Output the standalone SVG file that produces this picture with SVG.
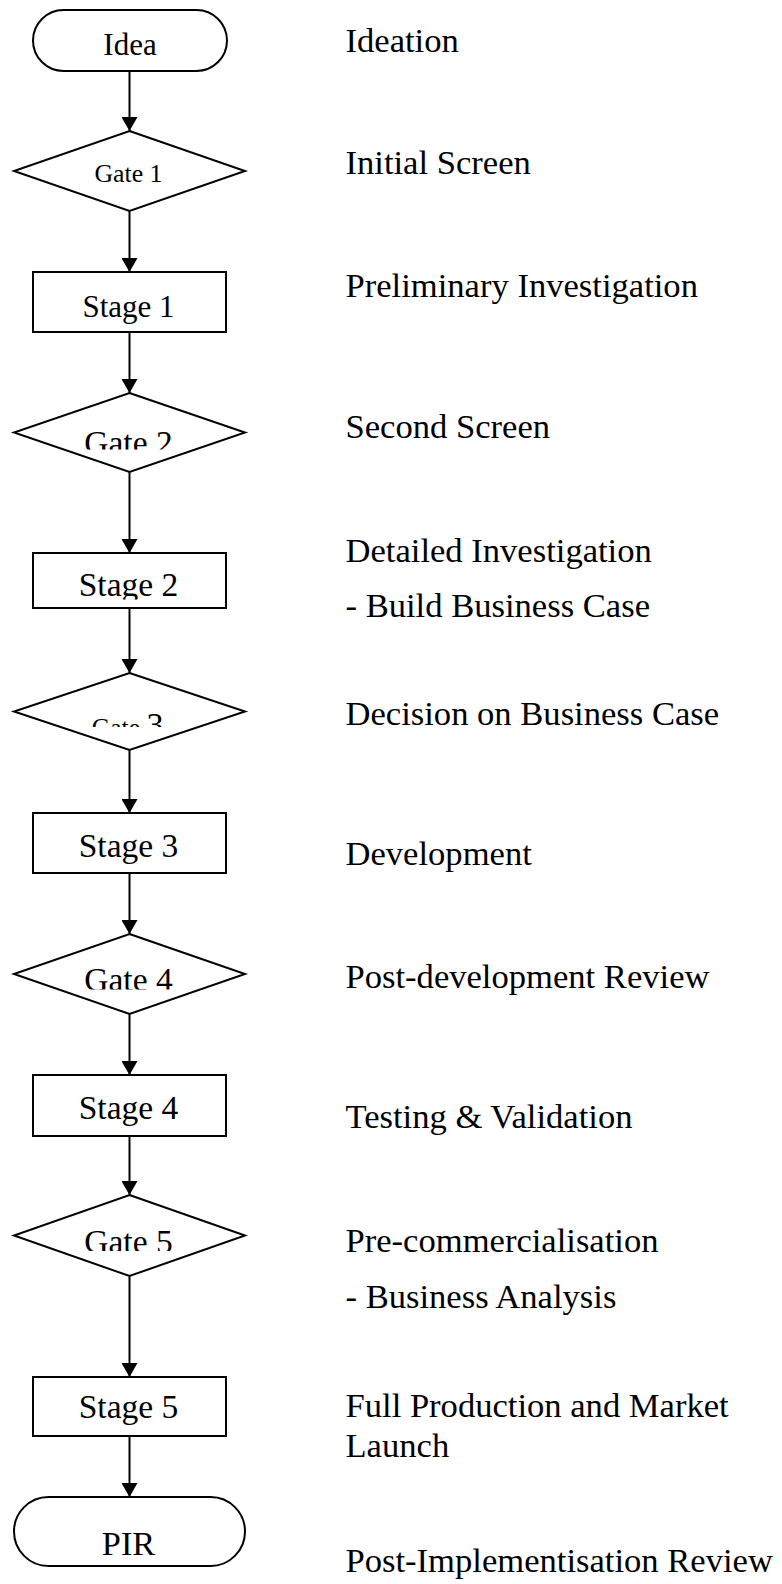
<svg xmlns="http://www.w3.org/2000/svg" width="782" height="1584" viewBox="0 0 782 1584">
  <style>
    .shape { fill: #ffffff; stroke: #000000; stroke-width: 2; }
    .edge { fill: none; stroke: #000000; stroke-width: 2; marker-end: url(#arrow); }
    .t { font-family: "Liberation Serif", "Times New Roman", serif; fill: #000000; }
    .lbl { font-size: 33.5px; text-anchor: middle; }
    .note { font-size: 34.6px; }
  </style>
  <defs>
    <marker id="arrow" markerUnits="userSpaceOnUse" markerWidth="14" markerHeight="16" viewBox="0 0 14 16" refX="14" refY="8" orient="auto">
      <path d="M0,0 L14,8 L0,16 Z" fill="#000000"/>
    </marker>
    <!-- text frames that cut off the lower part of some labels -->
    <clipPath id="clipGate2"><rect x="14" y="400" width="231" height="49.5"/></clipPath>
    <clipPath id="clipStage2"><rect x="33" y="553" width="193" height="46.5"/></clipPath>
    <clipPath id="clipGate3"><rect x="14" y="680" width="231" height="47"/></clipPath>
    <clipPath id="clipGate4"><rect x="14" y="940" width="231" height="49.5"/></clipPath>
    <clipPath id="clipGate5"><rect x="14" y="1200" width="231" height="51"/></clipPath>
  </defs>

  <rect width="782" height="1584" fill="#ffffff"/>

  <!-- connectors -->
  <g id="connectors">
    <line class="edge" x1="129.5" y1="71" x2="129.5" y2="131"/>
    <line class="edge" x1="129.5" y1="211" x2="129.5" y2="272"/>
    <line class="edge" x1="129.5" y1="332" x2="129.5" y2="393"/>
    <line class="edge" x1="129.5" y1="472" x2="129.5" y2="553"/>
    <line class="edge" x1="129.5" y1="608" x2="129.5" y2="673"/>
    <line class="edge" x1="129.5" y1="750" x2="129.5" y2="813"/>
    <line class="edge" x1="129.5" y1="873" x2="129.5" y2="934"/>
    <line class="edge" x1="129.5" y1="1014" x2="129.5" y2="1075"/>
    <line class="edge" x1="129.5" y1="1136" x2="129.5" y2="1195"/>
    <line class="edge" x1="129.5" y1="1276" x2="129.5" y2="1377"/>
    <line class="edge" x1="129.5" y1="1436" x2="129.5" y2="1497"/>
  </g>

  <!-- flow nodes -->
  <g id="idea">
    <rect class="shape" x="33" y="10" width="194" height="61" rx="30.5" ry="30.5"/>
    <text class="t" x="130" y="55" font-size="31" text-anchor="middle">Idea</text>
  </g>
  <g id="gate1">
    <polygon class="shape" points="129.5,131 245,171 129.5,211 14,171"/>
    <text class="t" x="128.5" y="181.5" font-size="25.8" text-anchor="middle">Gate 1</text>
  </g>
  <g id="stage1">
    <rect class="shape" x="33" y="272" width="193" height="60"/>
    <text class="t" x="128.5" y="317" font-size="31" text-anchor="middle">Stage 1</text>
  </g>
  <g id="gate2">
    <polygon class="shape" points="129.5,393 245,432.5 129.5,472 14,432.5"/>
    <text class="t lbl" x="128.5" y="454" clip-path="url(#clipGate2)">Gate 2</text>
  </g>
  <g id="stage2">
    <rect class="shape" x="33" y="553" width="193" height="55"/>
    <text class="t lbl" x="128.5" y="595.5" clip-path="url(#clipStage2)">Stage 2</text>
  </g>
  <g id="gate3">
    <polygon class="shape" points="129.5,673 245,711.5 129.5,750 14,711.5"/>
    <text class="t" x="91.7" y="736" clip-path="url(#clipGate3)"><tspan font-size="25.6">Gate </tspan><tspan font-size="34">3</tspan></text>
  </g>
  <g id="stage3">
    <rect class="shape" x="33" y="813" width="193" height="60"/>
    <text class="t lbl" x="128.5" y="856.5">Stage 3</text>
  </g>
  <g id="gate4">
    <polygon class="shape" points="129.5,934 245,974 129.5,1014 14,974"/>
    <text class="t lbl" x="128.5" y="991" clip-path="url(#clipGate4)">Gate 4</text>
  </g>
  <g id="stage4">
    <rect class="shape" x="33" y="1075" width="193" height="61"/>
    <text class="t lbl" x="128.5" y="1118.5">Stage 4</text>
  </g>
  <g id="gate5">
    <polygon class="shape" points="129.5,1195 245,1235.5 129.5,1276 14,1235.5"/>
    <text class="t lbl" x="128.5" y="1252.5" clip-path="url(#clipGate5)">Gate 5</text>
  </g>
  <g id="stage5">
    <rect class="shape" x="33" y="1377" width="193" height="59"/>
    <text class="t lbl" x="128.5" y="1417.5">Stage 5</text>
  </g>
  <g id="pir">
    <rect class="shape" x="14" y="1497" width="231" height="69" rx="34.5" ry="34.5"/>
    <text class="t" x="128.5" y="1555" font-size="34.3" text-anchor="middle">PIR</text>
  </g>

  <!-- phase descriptions -->
  <g id="descriptions" class="t note">
    <text x="345.5" y="51.7">Ideation</text>
    <text x="345.5" y="174">Initial Screen</text>
    <text x="345.5" y="296.7">Preliminary Investigation</text>
    <text x="345.5" y="438.3">Second Screen</text>
    <text x="345.5" y="561.7">Detailed Investigation</text>
    <text x="345.5" y="617.3">- Build Business Case</text>
    <text x="345.5" y="725">Decision on Business Case</text>
    <text x="345.5" y="865">Development</text>
    <text x="345.5" y="987.7">Post-development Review</text>
    <text x="345.5" y="1128.3">Testing &amp; Validation</text>
    <text x="345.5" y="1252.3">Pre-commercialisation</text>
    <text x="345.5" y="1308.3">- Business Analysis</text>
    <text x="345.5" y="1416.7">Full Production and Market</text>
    <text x="345.5" y="1456.7">Launch</text>
    <text x="345.5" y="1572">Post-Implementisation Review</text>
  </g>
</svg>
